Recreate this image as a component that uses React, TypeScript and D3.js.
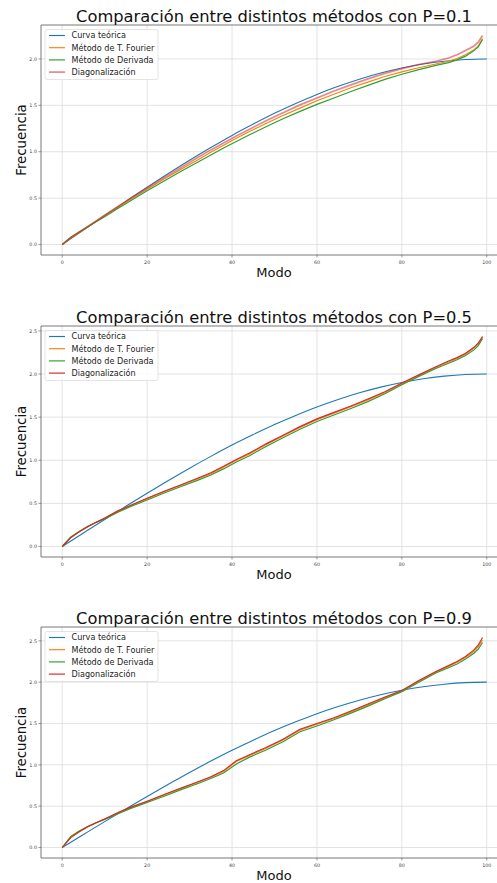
import React, {useEffect, useRef} from "react";
import * as d3 from "d3";

// modo (x) for the theoretical curve and for the numerical methods
const modeTeo = [0, 5, 10, 15, 20, 25, 30, 35, 40, 45, 50, 55, 60, 65, 70, 75, 80, 85, 90, 95, 100];
const curvaTeorica = [0, 0.157, 0.313, 0.466, 0.618, 0.765, 0.908, 1.045, 1.176, 1.298, 1.414, 1.52, 1.618, 1.705, 1.782, 1.848, 1.902, 1.945, 1.975, 1.994, 2.0];

const modeMet = [0, 2, 4, 6, 8, 10, 13, 16, 20, 24, 28, 32, 35, 38, 41, 44, 48, 52, 56, 60, 64, 68, 72, 76, 80, 84, 88, 91, 93, 95, 97, 98, 99];

// P = 0.1
const fourier1 = [0, 0.07, 0.13, 0.19, 0.25, 0.31, 0.4, 0.485, 0.595, 0.705, 0.81, 0.915, 0.995, 1.07, 1.145, 1.215, 1.305, 1.39, 1.47, 1.55, 1.62, 1.69, 1.75, 1.81, 1.86, 1.905, 1.945, 1.975, 2.005, 2.045, 2.1, 2.14, 2.22];
const derivada1 = [0, 0.08, 0.135, 0.19, 0.245, 0.3, 0.385, 0.47, 0.58, 0.685, 0.79, 0.89, 0.965, 1.04, 1.11, 1.18, 1.27, 1.355, 1.435, 1.51, 1.58, 1.65, 1.715, 1.78, 1.835, 1.885, 1.93, 1.96, 1.99, 2.03, 2.09, 2.13, 2.21];
const diagonal1 = [0, 0.075, 0.135, 0.195, 0.255, 0.315, 0.405, 0.495, 0.61, 0.72, 0.83, 0.94, 1.02, 1.095, 1.17, 1.24, 1.335, 1.42, 1.505, 1.58, 1.655, 1.72, 1.785, 1.845, 1.895, 1.94, 1.975, 2.01, 2.045, 2.09, 2.14, 2.18, 2.253];

// P = 0.5
const fourier2 = [0, 0.105, 0.17, 0.23, 0.28, 0.325, 0.405, 0.47, 0.555, 0.635, 0.71, 0.785, 0.845, 0.92, 1.0, 1.07, 1.18, 1.28, 1.38, 1.47, 1.545, 1.62, 1.7, 1.785, 1.885, 1.98, 2.075, 2.14, 2.18, 2.23, 2.3, 2.35, 2.43];
const derivada2 = [0, 0.11, 0.175, 0.235, 0.28, 0.32, 0.395, 0.46, 0.54, 0.62, 0.695, 0.77, 0.83, 0.9, 0.98, 1.05, 1.16, 1.26, 1.36, 1.45, 1.525, 1.6, 1.68, 1.77, 1.875, 1.97, 2.065, 2.125, 2.165, 2.215, 2.28, 2.33, 2.41];
const diagonal2 = [0, 0.1, 0.17, 0.23, 0.28, 0.33, 0.41, 0.475, 0.56, 0.64, 0.715, 0.795, 0.855, 0.93, 1.01, 1.08, 1.19, 1.29, 1.39, 1.48, 1.555, 1.63, 1.71, 1.795, 1.895, 1.99, 2.085, 2.15, 2.19, 2.24, 2.31, 2.36, 2.435];

// P = 0.9
const fourier3 = [0, 0.12, 0.19, 0.25, 0.3, 0.345, 0.415, 0.48, 0.555, 0.635, 0.715, 0.79, 0.85, 0.92, 1.04, 1.11, 1.2, 1.3, 1.42, 1.49, 1.56, 1.64, 1.725, 1.81, 1.895, 2.01, 2.12, 2.19, 2.24, 2.3, 2.37, 2.43, 2.51];
const derivada3 = [0, 0.135, 0.2, 0.255, 0.3, 0.34, 0.405, 0.47, 0.545, 0.62, 0.7, 0.775, 0.835, 0.9, 1.01, 1.09, 1.18, 1.28, 1.4, 1.47, 1.545, 1.625, 1.71, 1.8, 1.885, 2.0, 2.11, 2.175, 2.22, 2.28, 2.35, 2.4, 2.48];
const diagonal3 = [0, 0.12, 0.19, 0.25, 0.3, 0.345, 0.42, 0.485, 0.56, 0.64, 0.72, 0.795, 0.855, 0.93, 1.05, 1.12, 1.21, 1.31, 1.43, 1.5, 1.57, 1.65, 1.735, 1.82, 1.9, 2.02, 2.13, 2.2, 2.25, 2.31, 2.39, 2.45, 2.54];

const legendLabels = ["Curva teórica", "Método de T. Fourier", "Método de Derivada", "Diagonalización"];
const colors = ["#1f77b4", "#ff7f0e", "#2ca02c", "#d62728"];
const xTicks = [0, 20, 40, 60, 80, 100];
const yTicks = [0, 0.5, 1, 1.5, 2, 2.5];

const panels = [
	{p: "0.1", top: 25, bottom: 255, series: [fourier1, derivada1, diagonal1], faintRed: true},
	{p: "0.5", top: 326, bottom: 557, series: [fourier2, derivada2, diagonal2], faintRed: false},
	{p: "0.9", top: 627, bottom: 858, series: [fourier3, derivada3, diagonal3], faintRed: false},
];

const W = 497;
const H = 883;
const FONT = "DejaVu Sans, sans-serif";

const App: React.FC = () => {
	const svgRef = useRef<SVGSVGElement>(null);

	useEffect(() => {
		const svg = d3.select(svgRef.current);
		svg.selectAll("*").remove();
		svg.append("rect").attr("width", W).attr("height", H).attr("fill", "#fff");

		const x = d3.scaleLinear().domain([-5, 105]).range([41, 508]);

		panels.forEach((panel) => {
			const allVals = [curvaTeorica, ...panel.series].flat();
			const ymin = d3.min(allVals) as number;
			const ymax = d3.max(allVals) as number;
			const pad = (ymax - ymin) * 0.05;
			const y = d3.scaleLinear().domain([ymin - pad, ymax + pad]).range([panel.bottom, panel.top]);
			const g = svg.append("g");

			// grid
			xTicks.forEach((t) => {
				g.append("line")
					.attr("x1", x(t)).attr("x2", x(t))
					.attr("y1", panel.top).attr("y2", panel.bottom)
					.attr("stroke", "#dcdcdc").attr("stroke-width", 0.8);
			});
			const yt = yTicks.filter((t) => t <= y.domain()[1]);
			yt.forEach((t) => {
				g.append("line")
					.attr("x1", 41).attr("x2", 508)
					.attr("y1", y(t)).attr("y2", y(t))
					.attr("stroke", "#dcdcdc").attr("stroke-width", 0.8);
			});

			const line = d3
				.line<[number, number]>()
				.x((d) => x(d[0]))
				.y((d) => y(d[1]));

			// theoretical curve
			g.append("path")
				.datum(modeTeo.map((m, i) => [m, curvaTeorica[i]] as [number, number]))
				.attr("fill", "none")
				.attr("stroke", colors[0])
				.attr("stroke-width", 1.1)
				.attr("d", line.curve(d3.curveMonotoneX));

			panel.series.forEach((vals, si) => {
				const red = si === 2;
				g.append("path")
					.datum(modeMet.map((m, i) => [m, vals[i]] as [number, number]))
					.attr("fill", "none")
					.attr("stroke", colors[si + 1])
					.attr("stroke-opacity", red && panel.faintRed ? 0.55 : 1)
					.attr("stroke-width", red && panel.faintRed ? 1.7 : 1.15)
					.attr("d", line.curve(d3.curveLinear));
			});

			// spines
			const sp = "#555";
			g.append("line").attr("x1", 41).attr("x2", 41).attr("y1", panel.top).attr("y2", panel.bottom).attr("stroke", sp).attr("stroke-width", 0.8);
			g.append("line").attr("x1", 41).attr("x2", 508).attr("y1", panel.top).attr("y2", panel.top).attr("stroke", sp).attr("stroke-width", 0.8);
			g.append("line").attr("x1", 41).attr("x2", 508).attr("y1", panel.bottom).attr("y2", panel.bottom).attr("stroke", sp).attr("stroke-width", 0.8);

			// ticks
			xTicks.forEach((t) => {
				g.append("line").attr("x1", x(t)).attr("x2", x(t)).attr("y1", panel.bottom).attr("y2", panel.bottom + 2.5).attr("stroke", sp).attr("stroke-width", 0.6);
				g.append("text")
					.attr("x", x(t)).attr("y", panel.bottom + 9)
					.attr("text-anchor", "middle")
					.style("font-family", FONT).style("font-size", "4.8px").style("fill", "#444")
					.text(String(t));
			});
			yt.forEach((t) => {
				g.append("line").attr("x1", 38.5).attr("x2", 41).attr("y1", y(t)).attr("y2", y(t)).attr("stroke", sp).attr("stroke-width", 0.6);
				g.append("text")
					.attr("x", 37).attr("y", y(t) + 1.7)
					.attr("text-anchor", "end")
					.style("font-family", FONT).style("font-size", "4.8px").style("fill", "#444")
					.text(t.toFixed(1));
			});

			// title and labels
			g.append("text")
				.attr("x", 274).attr("y", panel.top - 3)
				.attr("text-anchor", "middle")
				.style("font-family", FONT).style("font-size", "16.3px").style("fill", "#111")
				.text(`Comparación entre distintos métodos con P=${panel.p}`);
			g.append("text")
				.attr("x", 274).attr("y", panel.bottom + 22)
				.attr("text-anchor", "middle")
				.style("font-family", FONT).style("font-size", "13px").style("fill", "#111")
				.text("Modo");
			g.append("text")
				.attr("transform", `translate(26, ${(panel.top + panel.bottom) / 2}) rotate(-90)`)
				.attr("text-anchor", "middle")
				.style("font-family", FONT).style("font-size", "13.3px").style("fill", "#111")
				.text("Frecuencia");

			// legend
			const lg = g.append("g").attr("transform", `translate(45, ${panel.top + 4.5})`);
			lg.append("rect")
				.attr("width", 113).attr("height", 50).attr("rx", 2)
				.attr("fill", "#fff").attr("fill-opacity", 0.85)
				.attr("stroke", "#d8d8d8").attr("stroke-width", 0.7);
			legendLabels.forEach((lab, i) => {
				const ly = 6 + i * 12.2;
				const red = i === 3 && panel.faintRed;
				lg.append("line")
					.attr("x1", 4).attr("x2", 20).attr("y1", ly).attr("y2", ly)
					.attr("stroke", colors[i])
					.attr("stroke-opacity", red ? 0.55 : 1)
					.attr("stroke-width", red ? 1.7 : 1.15);
				lg.append("text")
					.attr("x", 26.5).attr("y", ly + 2.9)
					.style("font-family", FONT).style("font-size", "8.1px").style("fill", "#222")
					.text(lab);
			});
		});
	}, []);

	return (
		<svg
			ref={svgRef}
			width={W}
			height={H}
			style={{position: "absolute", left: 0, top: 0}}
		/>
	);
};

export default App;
